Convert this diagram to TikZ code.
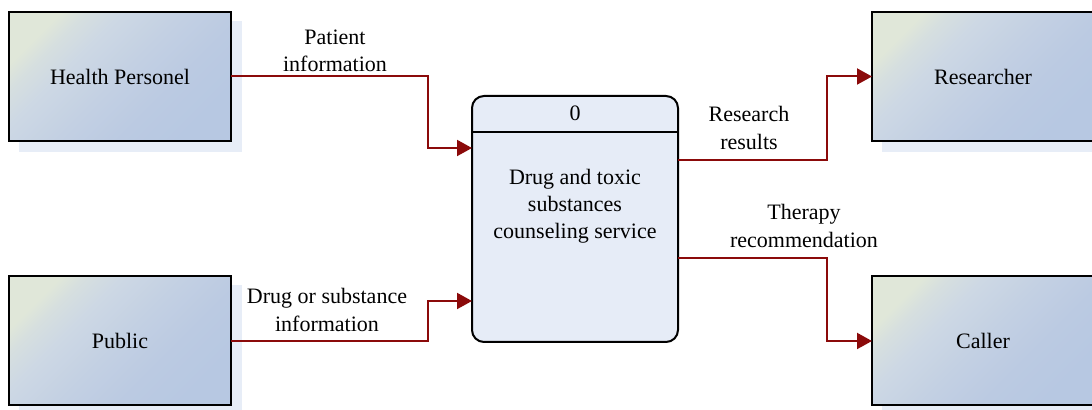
\documentclass[tikz,border=0pt]{standalone}
\usepackage{fontspec}
\setmainfont{Liberation Serif}
\usetikzlibrary{arrows.meta}
\definecolor{entA}{HTML}{E0E7D9}
\definecolor{entB}{HTML}{D6DFDF}
\definecolor{entC}{HTML}{CDD8E4}
\definecolor{entD}{HTML}{C3D0E3}
\definecolor{entE}{HTML}{BBCAE2}
\definecolor{entF}{HTML}{B7C8E2}
\definecolor{shadowBlue}{HTML}{E7EDF7}
\definecolor{procFill}{HTML}{E6ECF7}
\definecolor{flowRed}{HTML}{8B0A0A}
% diagonal fill of the external entities, cream in the upper left corner fading to blue
\pgfdeclareverticalshading{entgrad}{100bp}{%
  color(0bp)=(entF); color(25bp)=(entF); color(37.5bp)=(entE); color(50bp)=(entD);
  color(62.5bp)=(entC); color(70bp)=(entB); color(75bp)=(entA); color(100bp)=(entA)}
\tikzset{
  entity/.style={draw=black, line width=1pt, minimum width=111pt, minimum height=64.5pt,
    inner sep=0pt, outer sep=0pt, shading=entgrad, shading angle=45,
    font=\fontsize{11}{13.6}\selectfont},
  process/.style={draw=black, line width=1pt, fill=procFill, rounded corners=6pt,
    minimum width=103pt, minimum height=123pt, inner sep=0pt, outer sep=0pt},
  flow/.style={draw=flowRed, line width=1pt, -{Triangle[length=7.5pt,width=8pt]}},
  lbl/.style={align=center, inner sep=0pt, font=\fontsize{11}{13.8}\selectfont},
}
\begin{document}
\begin{tikzpicture}[x=0.5pt, y=-0.5pt]
  \useasboundingbox (0,0) rectangle (1092,410);
  \clip (0,0) rectangle (1092,410);

  % drop shadows behind the external entities
  \fill[shadowBlue] (19,21) rectangle (242,152);
  \fill[shadowBlue] (19,285) rectangle (242,416);
  \fill[shadowBlue] (882,21) rectangle (1105,152);
  \fill[shadowBlue] (882,285) rectangle (1105,416);

  % external entities
  \node[entity] (hp)  at (120,76.5)   {Health Personel};
  \node[entity] (pub) at (120,341)    {Public};
  \node[entity] (res) at (983,76.5)   {Researcher};
  \node[entity] (cal) at (983,341)    {Caller};

  % process
  \node[process] (proc) at (575,219) {};
  \draw[line width=1pt] (proc.west |- 0,132) -- (proc.east |- 0,132);
  \node[lbl] (procid) at (575,113) {0};
  \node[lbl, font=\fontsize{11}{13.5}\selectfont] (procname) at (575,206)
    {Drug and toxic\\substances\\counseling service};

  % data flows
  \draw[flow] (hp.east) -- (428,76.5) |- (proc.west |- 0,148);
  \draw[flow] (pub.east) -- (428,341) |- (proc.west |- 0,301);
  \draw[flow] (proc.east |- 0,160) -- (827,160) |- (res.west);
  \draw[flow] (proc.east |- 0,258) -- (827,258) |- (cal.west);

  % flow labels
  \node[lbl] (l1) at (335,51)  {Patient\\information};
  \node[lbl] (l2) at (327,310) {Drug or substance\\information};
  \node[lbl] (l3) at (749,128) {Research\\results};
  \node[lbl] (l4) at (804,226) {Therapy\\recommendation};
\end{tikzpicture}
\end{document}
